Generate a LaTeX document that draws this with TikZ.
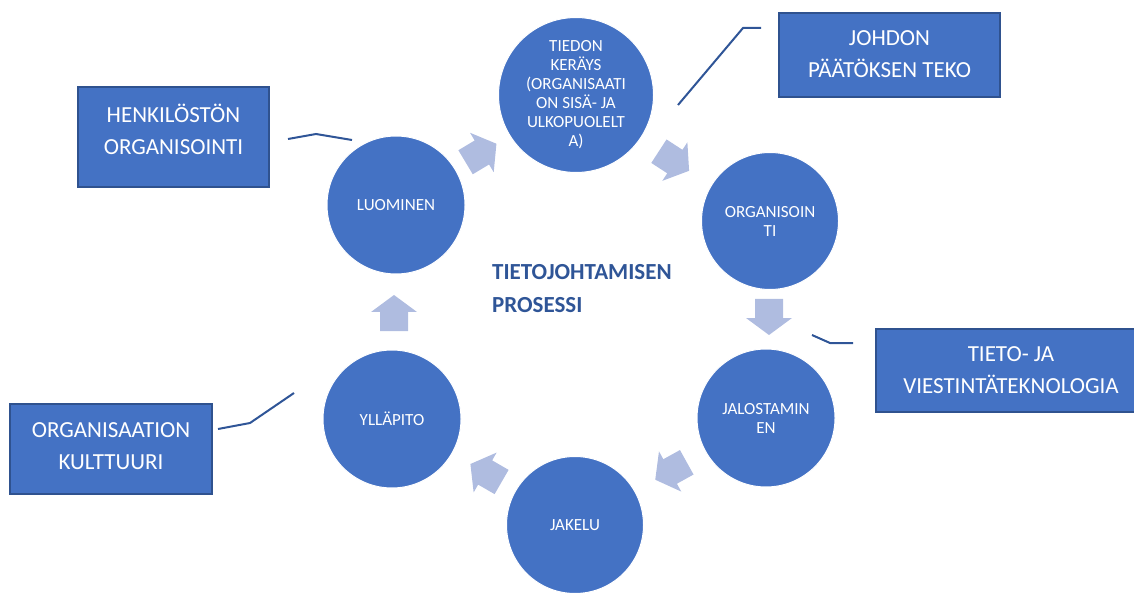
\documentclass[tikz,border=0pt]{standalone}
\usepackage{fontspec}
\setmainfont{Carlito}
\usetikzlibrary{calc}
\definecolor{circfill}{HTML}{4472C4}
\definecolor{boxedge}{HTML}{2F528F}
\definecolor{arrowfill}{HTML}{AFBCE0}
\definecolor{linecol}{HTML}{2F5597}
\definecolor{titlecol}{HTML}{2F5597}
\tikzset{
  stage/.style={circle, fill=circfill, draw=white, line width=1pt, inner sep=0pt,
    text=white, align=center, font=\fontsize{17}{19}\selectfont},
  infobox/.style={rectangle, fill=circfill, draw=boxedge, line width=1.5pt, inner sep=0pt},
  boxtext/.style={text=white, align=center, inner sep=0pt, font=\fontsize{23}{32}\selectfont},
  titletext/.style={text=titlecol, align=left, inner sep=0pt, font=\bfseries\fontsize{23}{33}\selectfont},
  callout/.style={draw=linecol, line width=2pt},
  flowarrow/.pic={\fill[arrowfill] (-18,-14) -- (1,-14) -- (1,-23) -- (18,0) -- (1,23) -- (1,14) -- (-18,14) -- cycle;}
}
\begin{document}
\begin{tikzpicture}[x=1pt,y=-1pt]
\path[use as bounding box] (0,0) rectangle (1134,593);
\clip (0,0) rectangle (1134,593);

% process circles
\node[stage, minimum size=155] (tiedon) at (576,95) {TIEDON\\KERÄYS\\(ORGANISAATI\\ON SISÄ- JA\\ULKOPUOLELT\\A)};
\node[stage, minimum size=137] (organ) at (770,221) {ORGANISOIN\\TI};
\node[stage, minimum size=138] (jalost) at (766,418) {JALOSTAMIN\\EN};
\node[stage, minimum size=137] (jakelu) at (575,525) {JAKELU};
\node[stage, minimum size=138] (yllapito) at (392,419) {YLLÄPITO};
\node[stage, minimum size=138] (luominen) at (396,205) {LUOMINEN};

% block arrows
\pic[rotate=31] at (481,153) {flowarrow};
\pic[rotate=-33] at (674,161) {flowarrow};
\pic[rotate=-90] at (769,317) {flowarrow};
\pic[rotate=209] at (671,471) {flowarrow};
\pic[rotate=150] at (486,473) {flowarrow};
\pic[rotate=90] at (394,313) {flowarrow};

% centre title
\node[titletext, anchor=west] (title) at (492,289) {TIETOJOHTAMISEN\\PROSESSI};

% boxes
\node[infobox, minimum width=191, minimum height=100] (henk) at (173.5,137) {};
\node[boxtext] (henkt) at (173.5,129) {HENKILÖSTÖN\\ORGANISOINTI};
\node[infobox, minimum width=221, minimum height=84] (johdon) at (889.5,55) {};
\node[boxtext] (johdont) at (889.5,54) {JOHDON\\PÄÄTÖKSEN TEKO};
\node[infobox, minimum width=270, minimum height=83] (tieto) at (1011,370.5) {};
\node[boxtext] (tietot) at (1011,370) {TIETO- JA\\VIESTINTÄTEKNOLOGIA};
\node[infobox, minimum width=202, minimum height=90] (kult) at (111,449) {};
\node[boxtext] (kultt) at (111,446) {ORGANISAATION\\KULTTUURI};

% callout lines
\coordinate (h1) at (288,139); \coordinate (h2) at (316,134); \coordinate (h3) at (352,140);
\coordinate (j1) at (678,105); \coordinate (j2) at (743,28); \coordinate (j3) at (761,28);
\coordinate (t1) at (812,335); \coordinate (t2) at (830,343); \coordinate (t3) at (853,343);
\coordinate (k1) at (218,429); \coordinate (k2) at (250,423); \coordinate (k3) at (294,393);
\draw[callout] (h1) -- (h2) -- (h3);
\draw[callout] (j1) -- (j2) -- (j3);
\draw[callout] (t1) -- (t2) -- (t3);
\draw[callout] (k1) -- (k2) -- (k3);
\end{tikzpicture}
\end{document}
